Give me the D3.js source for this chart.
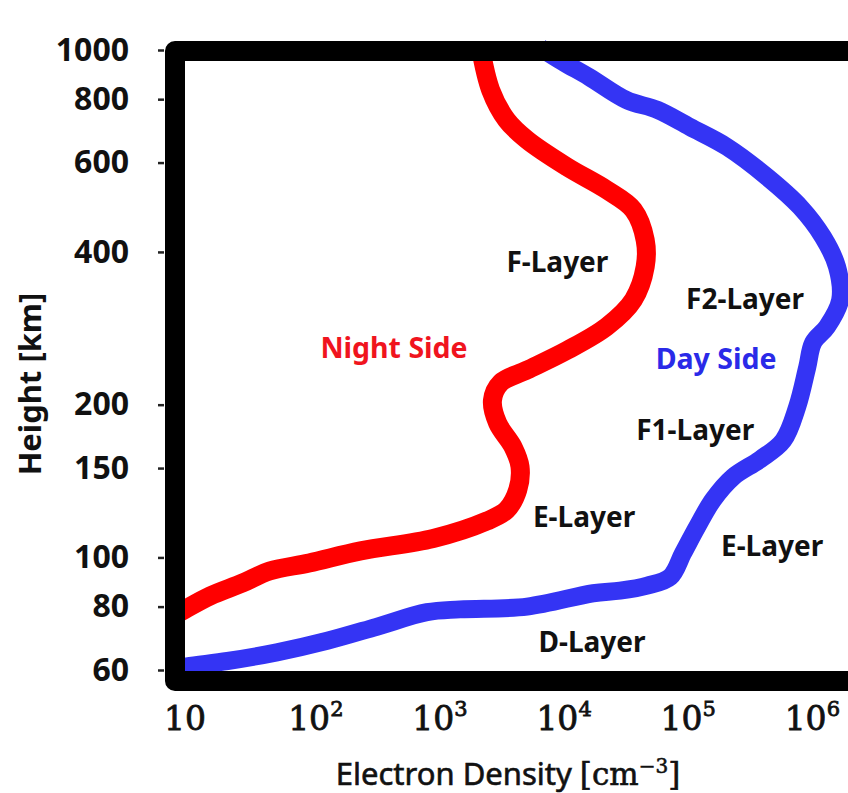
<!DOCTYPE html>
<html>
<head>
<meta charset="utf-8">
<script src="https://cdn.jsdelivr.net/npm/d3@7"></script>
<style>
  html, body { margin: 0; padding: 0; background: #fff; }
  svg { display: block; }
</style>
</head>
<body>
<svg id="chart" width="848" height="793"></svg>
<script>
// ---------- data ----------
const densityTicks = [10, 100, 1e3, 1e4, 1e5, 1e6];
const densityTickExp = ["", "2", "3", "4", "5", "6"];
const heightTicks = [60, 80, 100, 150, 200, 400, 600, 800, 1000];

const nightDensity = [2400, 2900, 3900, 5700, 12000, 25000, 41000, 51000, 51000, 41000, 25000, 12000, 5700, 3500, 3000, 3300, 4400, 5000, 4800, 3900, 2700, 1000, 260, 100, 48, 29, 16, 10, 8.3];
const nightHeight  = [1010, 834, 728, 665, 588, 530, 484, 422, 374, 322, 285, 256, 234, 221, 204, 184, 165, 151, 136, 124, 118, 109, 103, 97.5, 94, 89, 84, 79, 77];

const dayDensity = [7300, 11100, 18000, 36000, 64000, 117000, 233000, 490000, 900000, 1.38e6, 1.79e6, 1.9e6, 1.49e6, 1.15e6, 1.03e6, 855000, 660000, 430000, 260000, 180000, 134000, 103000, 81000, 53000, 32000, 19400, 5700, 1640, 890, 350, 140, 55, 22, 10.4, 8.3];
const dayHeight  = [1010, 947, 885, 797, 762, 705, 644, 562, 491, 428, 374, 322, 285, 265, 237, 198, 170, 156, 144, 130, 115, 102, 91.5, 88, 86, 85, 80, 79, 78, 73, 68.5, 65, 62.5, 61, 60.3];

const layerNames   = ["F-Layer", "F2-Layer", "F1-Layer", "E-Layer", "E-Layer", "D-Layer"];
const layerDensity = [10000, 325000, 129000, 16400, 537000, 19000];
const layerHeight  = [382, 323, 178, 120, 105, 68.2];

const sideNames   = ["Night Side", "Day Side"];
const sideDensity = [483, 190000];
const sideHeight  = [259, 246];

// ---------- layout ----------
const svg = d3.select("#chart");
const plot = { left: 185, right: 843, top: 60, bottom: 673 };

const x = d3.scaleLog().domain([10, 2e6]).range([185, 843]);
const y = d3.scaleLog().domain([60, 1000]).range([670, 50]);

const RED = "#ff0000", BLUE = "#3434f4";

const line = d3.line()
  .x(d => x(d[0]))
  .y(d => y(d[1]))
  .curve(d3.curveCatmullRom.alpha(0.5));

const night = nightDensity.map((v, i) => [v, nightHeight[i]]);
const day = dayDensity.map((v, i) => [v, dayHeight[i]]);

svg.append("path").datum(day)
  .attr("d", line).attr("fill", "none")
  .attr("stroke", BLUE).attr("stroke-width", 18)
  .attr("stroke-linejoin", "round");

svg.append("path").datum(night)
  .attr("d", line).attr("fill", "none")
  .attr("stroke", RED).attr("stroke-width", 19)
  .attr("stroke-linejoin", "round");

// frame (drawn over the curves)
svg.append("rect")
  .attr("x", plot.left - 10).attr("y", plot.top - 9)
  .attr("width", plot.right - plot.left + 30)
  .attr("height", plot.bottom - plot.top + 17)
  .attr("fill", "none").attr("stroke", "#000")
  .attr("stroke-width", 20).attr("stroke-linejoin", "round");

// y axis ticks + labels
const yAxis = d3.axisLeft(y).tickValues(heightTicks).tickSize(6).tickPadding(29)
  .tickFormat(d3.format("d"));
const gy = svg.append("g").attr("transform", "translate(164,0)").call(yAxis);
gy.select(".domain").remove();
gy.selectAll(".tick line").attr("stroke", "#222").attr("stroke-width", 2.5);
gy.selectAll(".tick text")
  .attr("fill", "#111")
  .style("font-family", "'Noto Sans', sans-serif")
  .style("font-weight", "bold")
  .style("font-size", "32px");

// x tick labels
const gx = svg.append("g");
densityTicks.forEach((d, i) => {
  const t = gx.append("text")
    .attr("x", x(d)).attr("y", 730)
    .attr("text-anchor", "start")
    .style("font-family", "'DejaVu Serif', serif")
    .style("font-size", "33px")
    .attr("fill", "#111")
    .attr("stroke", "#111").attr("stroke-width", 0.8);
  t.append("tspan").text("10");
  if (densityTickExp[i]) {
    t.append("tspan").text(densityTickExp[i])
      .attr("dy", -14).style("font-size", "21px");
  }
});
// shift so base "10" is centered on tick
gx.selectAll("text").each(function(d, i) {
  const base = this.firstChild.getComputedTextLength();
  const cx = x(densityTicks[i]);
  d3.select(this).attr("x", cx - base / 2);
});

// axis titles
const xt = svg.append("text")
  .attr("x", 508).attr("y", 785)
  .attr("text-anchor", "middle")
  .attr("fill", "#111")
  .attr("stroke", "#111").attr("stroke-width", 0.6)
  .style("font-family", "'Noto Sans', sans-serif")
  .style("font-size", "31px");
xt.append("tspan").text("Electron Density ");
xt.append("tspan").text("[cm").style("font-family", "'DejaVu Serif', serif");
xt.append("tspan").text("\u22123").attr("dy", -12)
  .style("font-family", "'DejaVu Serif', serif").style("font-size", "20px");
xt.append("tspan").text("]").attr("dy", 12)
  .style("font-family", "'DejaVu Serif', serif");

svg.append("text")
  .attr("transform", "translate(41,384) rotate(-90)")
  .attr("text-anchor", "middle")
  .attr("fill", "#111")
  .style("font-family", "'Noto Sans', sans-serif")
  .style("font-weight", "bold")
  .style("font-size", "31px")
  .text("Height [km]");

// layer annotations
layerNames.forEach((name, i) => {
  svg.append("text")
    .attr("x", x(layerDensity[i])).attr("y", y(layerHeight[i]))
    .attr("dy", "0.35em")
    .attr("text-anchor", "middle")
    .attr("fill", "#111")
    .style("font-family", "'Noto Sans', sans-serif")
    .style("font-weight", "bold")
    .style("font-size", "28px")
    .text(name);
});

const sideColors = ["#f0141e", "#2a2ae8"];
sideNames.forEach((name, i) => {
  svg.append("text")
    .attr("x", x(sideDensity[i])).attr("y", y(sideHeight[i]))
    .attr("dy", "0.35em")
    .attr("text-anchor", "middle")
    .attr("fill", sideColors[i])
    .style("font-family", "'Noto Sans', sans-serif")
    .style("font-weight", "bold")
    .style("font-size", "28.5px")
    .text(name);
});
</script>
</body>
</html>
